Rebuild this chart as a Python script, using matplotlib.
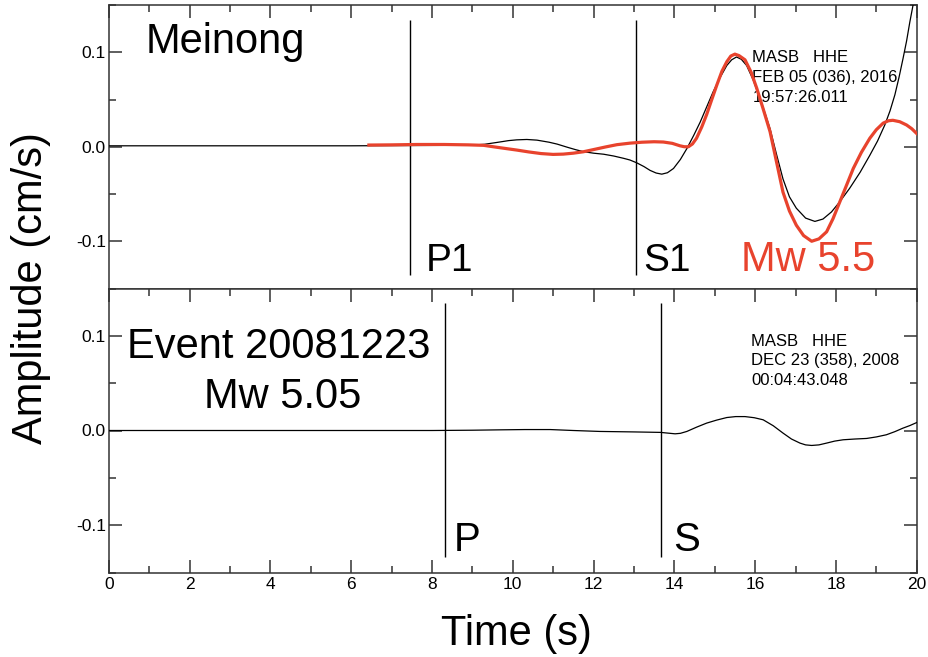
import numpy as np
import matplotlib.pyplot as plt
from matplotlib.ticker import MultipleLocator, FormatStrFormatter

# Meinong record (black) and synthetic Mw 5.5 waveform (red), MASB HHE
t_obs = [0.0, 1.0, 2.0, 3.0, 4.0, 5.0, 6.0, 7.0, 8.0, 8.6, 9.0, 9.3, 9.6, 9.9,
         10.1, 10.35, 10.6, 10.9, 11.1, 11.35, 11.55, 11.75, 12.0, 12.25, 12.5,
         12.75, 12.9, 13.07, 13.25, 13.4, 13.55, 13.69, 13.83, 13.98, 14.15,
         14.31, 14.48, 14.64, 14.8, 14.96, 15.13, 15.3, 15.42, 15.54, 15.66,
         15.79, 15.95, 16.12, 16.25, 16.37, 16.53, 16.69, 16.85, 17.02, 17.25,
         17.48, 17.68, 17.89, 18.1, 18.34, 18.6, 18.84, 19.03, 19.21, 19.34,
         19.46, 19.56, 19.66, 19.75, 19.83, 19.91, 19.98]
amp_obs = [0.001, 0.001, 0.001, 0.001, 0.001, 0.001, 0.001, 0.0012, 0.0014,
           0.0015, 0.0018, 0.0026, 0.0045, 0.0065, 0.0073, 0.0077, 0.0070,
           0.0048, 0.0028, -0.0005, -0.003, -0.0052, -0.0068, -0.0079, -0.0098,
           -0.0123, -0.014, -0.017, -0.021, -0.025, -0.0278, -0.029, -0.0275,
           -0.023, -0.0135, -0.002, 0.012, 0.026, 0.042, 0.058, 0.073, 0.086,
           0.092, 0.095, 0.0925, 0.086, 0.071, 0.051, 0.035, 0.019, -0.008,
           -0.034, -0.053, -0.065, -0.0755, -0.079, -0.0765, -0.069, -0.058,
           -0.044, -0.027, -0.009, 0.006, 0.023, 0.038, 0.055, 0.073, 0.093,
           0.112, 0.132, 0.150, 0.168]

t_syn = [6.44, 7.0, 7.63, 8.3, 8.9, 9.28, 9.6, 9.85, 10.1, 10.4, 10.7, 11.0,
         11.25, 11.5, 11.75, 12.0, 12.3, 12.58, 12.9, 13.2, 13.5, 13.73, 13.95,
         14.14, 14.25, 14.35, 14.45, 14.55, 14.68, 14.8, 14.92, 15.05, 15.18,
         15.3, 15.4, 15.5, 15.6, 15.75, 15.9, 16.04, 16.2, 16.37, 16.53, 16.69,
         16.85, 17.02, 17.2, 17.4, 17.58, 17.77, 17.93, 18.1, 18.27, 18.43,
         18.63, 18.84, 19.0, 19.17, 19.3, 19.41, 19.58, 19.75, 19.88, 20.0]
amp_syn = [0.0018, 0.002, 0.0024, 0.0024, 0.002, 0.0015, -0.0005, -0.002,
           -0.0035, -0.0055, -0.0072, -0.0081, -0.0078, -0.0068, -0.0053,
           -0.003, -0.0002, 0.0022, 0.0038, 0.0048, 0.0053, 0.005, 0.0036,
           0.001, 0.0, 0.0, 0.003, 0.009, 0.021, 0.034, 0.049, 0.065, 0.08,
           0.09, 0.096, 0.098, 0.0965, 0.092, 0.079, 0.062, 0.04, 0.016, -0.016,
           -0.048, -0.068, -0.083, -0.094, -0.100, -0.0975, -0.09, -0.076,
           -0.058, -0.04, -0.023, -0.006, 0.009, 0.018, 0.025, 0.0275, 0.028,
           0.0265, 0.023, 0.019, 0.014]

# Event 20081223 record
t_2008 = [0.0, 2.0, 4.0, 6.0, 8.0, 9.0, 9.69, 10.3, 10.93, 11.5, 12.16, 13.0,
          13.66, 13.85, 14.02, 14.15, 14.31, 14.55, 14.8, 15.05, 15.3, 15.52,
          15.75, 15.98, 16.2, 16.45, 16.69, 16.9, 17.11, 17.25, 17.4, 17.58,
          17.77, 17.97, 18.18, 18.47, 18.76, 19.0, 19.25, 19.46, 19.66, 19.83,
          20.0]
amp_2008 = [0.0, 0.0, 0.0, 0.0, 0.0, 0.0003, 0.0007, 0.001, 0.001, 0.0, -0.001,
            -0.0015, -0.002, -0.0028, -0.0035, -0.003, -0.001, 0.0035, 0.0078,
            0.011, 0.0137, 0.0147, 0.0147, 0.0135, 0.0113, 0.005, -0.0027,
            -0.009, -0.0133, -0.0152, -0.0158, -0.0152, -0.0133, -0.0112,
            -0.0098, -0.009, -0.0084, -0.0068, -0.0045, -0.0012, 0.0025, 0.0052,
            0.0084]

# phase picks
picks_top = [7.45, 13.06]
names_top = ['P1', 'S1']
picks_bot = [8.32, 13.66]
names_bot = ['P', 'S']

header_top = ['MASB   HHE', 'FEB 05 (036), 2016', '19:57:26.011']
header_bot = ['MASB   HHE', 'DEC 23 (358), 2008', '00:04:43.048']

RED = '#e8432d'
SPINE = '#333333'
BIG = 'Liberation Sans'
SMALL = 'Liberation Sans'

plt.rcParams['axes.unicode_minus'] = False

fig = plt.figure(figsize=(9.29, 6.57), dpi=100)
ax1 = fig.add_axes([108.7 / 929, 1 - 288.5 / 657, 808 / 929, 283.5 / 657])
ax2 = fig.add_axes([108.7 / 929, 1 - 572.5 / 657, 808 / 929, 284 / 657])


def style(ax, bottom_ticks):
    ax.set_xlim(0, 20)
    ax.set_ylim(-0.15, 0.15)
    ax.xaxis.set_major_locator(MultipleLocator(2))
    ax.xaxis.set_minor_locator(MultipleLocator(1))
    ax.yaxis.set_major_locator(MultipleLocator(0.1))
    ax.yaxis.set_minor_locator(MultipleLocator(0.05))
    ax.yaxis.set_major_formatter(FormatStrFormatter('%.1f'))
    ax.tick_params(which='both', direction='in', top=True, right=True,
                   bottom=bottom_ticks, labelbottom=bottom_ticks,
                   color=SPINE, width=1.1)
    ax.tick_params(which='major', length=9.5)
    ax.tick_params(which='minor', length=5)
    ax.tick_params(axis='y', pad=2)
    ax.tick_params(axis='x', pad=3)
    for lab in ax.get_xticklabels() + ax.get_yticklabels():
        lab.set_family(SMALL)
        lab.set_fontsize(12.5)
    for sp in ax.spines.values():
        sp.set_color(SPINE)
        sp.set_linewidth(1.1)


style(ax1, False)
style(ax2, True)

ax1.plot(t_obs, amp_obs, color='black', lw=0.9, zorder=3)
ax1.plot(t_syn, amp_syn, color=RED, lw=2.3, zorder=4)
ax1.vlines(picks_top, -0.136, 0.134, color='black', lw=1.0)
for x, s, dx in zip(picks_top, names_top, [0.39, 0.16]):
    ax1.text(x + dx, -0.1315, s, fontsize=28, family=BIG, va='baseline')
ax1.text(15.66, -0.1315, 'Mw 5.5', fontsize=30, family=BIG, color=RED,
         va='baseline')
ax1.text(0.92, 0.099, 'Meinong', fontsize=30, family=BIG, va='baseline')
for i, line in enumerate(header_top):
    ax1.text(15.93, 0.0896 - 0.0211 * i, line, fontsize=12, family=SMALL,
             va='baseline')

ax2.plot(t_2008, amp_2008, color='black', lw=0.9, zorder=3)
ax2.vlines(picks_bot, -0.134, 0.135, color='black', lw=1.0)
for x, s, dx in zip(picks_bot, names_bot, [0.22, 0.3]):
    ax2.text(x + dx, -0.127, s, fontsize=29, family=BIG, va='baseline')
ax2.text(4.2, 0.0767, 'Event 20081223', fontsize=30, family=BIG,
         ha='center', va='baseline')
ax2.text(4.3, 0.024, 'Mw 5.05', fontsize=30, family=BIG, ha='center',
         va='baseline')
for i, line in enumerate(header_bot):
    ax2.text(15.9, 0.0897 - 0.0207 * i, line, fontsize=12, family=SMALL,
             va='baseline')

fig.text(516 / 929, 1 - 645 / 657, 'Time (s)', fontsize=30, family=BIG,
         ha='center', va='baseline')
fig.text(31 / 929, 1 - 288 / 657, 'Amplitude (cm/s)', fontsize=30, family=BIG,
         rotation=90, ha='center', va='center')

fig.savefig('out.png', dpi=100)
